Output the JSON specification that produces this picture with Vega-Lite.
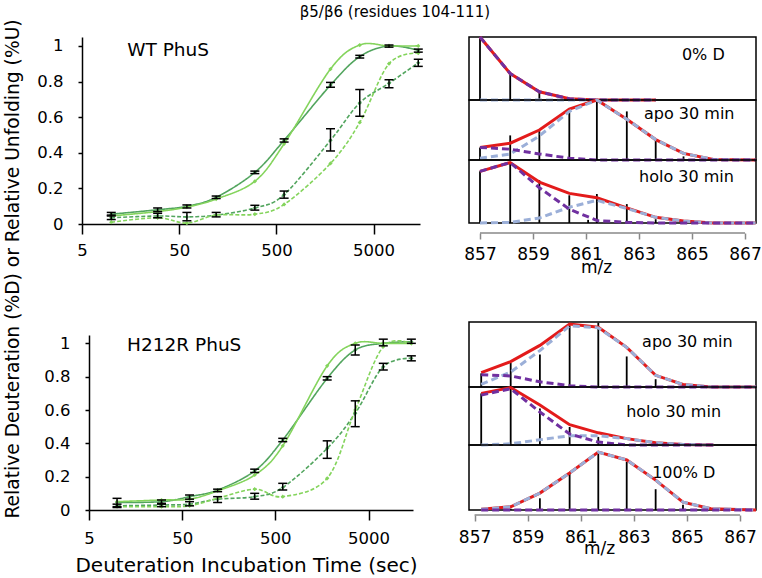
{
  "$schema": "https://vega.github.io/schema/vega-lite/v6.json",
  "padding": {"left": 2, "top": 4, "right": 0, "bottom": 0},
  "background": "white",
  "title": {"text": "β5/β6 (residues 104-111)", "fontSize": 15, "fontWeight": "normal", "anchor": "middle", "offset": -1, "dx": 12, "color": "black"},
  "config": {
    "font": "DejaVu Sans",
    "view": {"stroke": null},
    "axis": {"grid": false, "domainColor": "black", "tickColor": "black", "labelColor": "black", "titleColor": "black", "domainWidth": 1.5, "tickWidth": 1.5, "labelFlush": false, "labelOverlap": false, "titleFontWeight": "normal"}
  },
  "datasets": {
    "kin": [
      {"panel": "WT", "state": "apo", "measure": "%D", "t": 10, "v": 0.055, "lo": 0.045, "hi": 0.065},
      {"panel": "WT", "state": "apo", "measure": "%D", "t": 30, "v": 0.08, "lo": 0.07, "hi": 0.09},
      {"panel": "WT", "state": "apo", "measure": "%D", "t": 60, "v": 0.1, "lo": 0.09, "hi": 0.107},
      {"panel": "WT", "state": "apo", "measure": "%D", "t": 120, "v": 0.15, "lo": 0.143, "hi": 0.157},
      {"panel": "WT", "state": "apo", "measure": "%D", "t": 300, "v": 0.29, "lo": 0.283, "hi": 0.297},
      {"panel": "WT", "state": "apo", "measure": "%D", "t": 600, "v": 0.47, "lo": 0.46, "hi": 0.478},
      {"panel": "WT", "state": "apo", "measure": "%D", "t": 1800, "v": 0.78, "lo": 0.768, "hi": 0.795},
      {"panel": "WT", "state": "apo", "measure": "%D", "t": 3600, "v": 0.94, "lo": 0.932, "hi": 0.947},
      {"panel": "WT", "state": "apo", "measure": "%D", "t": 7200, "v": 1.0, "lo": 0.993, "hi": 1.005},
      {"panel": "WT", "state": "apo", "measure": "%D", "t": 14400, "v": 0.975, "lo": 0.965, "hi": 0.982},
      {"panel": "WT", "state": "apo", "measure": "%U", "t": 10, "v": 0.045},
      {"panel": "WT", "state": "apo", "measure": "%U", "t": 30, "v": 0.07},
      {"panel": "WT", "state": "apo", "measure": "%U", "t": 60, "v": 0.095},
      {"panel": "WT", "state": "apo", "measure": "%U", "t": 120, "v": 0.14},
      {"panel": "WT", "state": "apo", "measure": "%U", "t": 300, "v": 0.24},
      {"panel": "WT", "state": "apo", "measure": "%U", "t": 600, "v": 0.45},
      {"panel": "WT", "state": "apo", "measure": "%U", "t": 1800, "v": 0.87},
      {"panel": "WT", "state": "apo", "measure": "%U", "t": 3600, "v": 1.005},
      {"panel": "WT", "state": "apo", "measure": "%U", "t": 7200, "v": 1.0},
      {"panel": "WT", "state": "apo", "measure": "%U", "t": 14400, "v": 1.0},
      {"panel": "WT", "state": "holo", "measure": "%D", "t": 10, "v": 0.035, "lo": 0.025, "hi": 0.05},
      {"panel": "WT", "state": "holo", "measure": "%D", "t": 30, "v": 0.045, "lo": 0.035, "hi": 0.06},
      {"panel": "WT", "state": "holo", "measure": "%D", "t": 60, "v": 0.04, "lo": 0.018, "hi": 0.065},
      {"panel": "WT", "state": "holo", "measure": "%D", "t": 120, "v": 0.05, "lo": 0.04, "hi": 0.065},
      {"panel": "WT", "state": "holo", "measure": "%D", "t": 300, "v": 0.09, "lo": 0.078, "hi": 0.105},
      {"panel": "WT", "state": "holo", "measure": "%D", "t": 600, "v": 0.165, "lo": 0.145, "hi": 0.185},
      {"panel": "WT", "state": "holo", "measure": "%D", "t": 1800, "v": 0.47, "lo": 0.41, "hi": 0.535},
      {"panel": "WT", "state": "holo", "measure": "%D", "t": 3600, "v": 0.68, "lo": 0.605, "hi": 0.755},
      {"panel": "WT", "state": "holo", "measure": "%D", "t": 7200, "v": 0.79, "lo": 0.765, "hi": 0.81},
      {"panel": "WT", "state": "holo", "measure": "%D", "t": 14400, "v": 0.905, "lo": 0.885, "hi": 0.925},
      {"panel": "WT", "state": "holo", "measure": "%U", "t": 10, "v": 0.01},
      {"panel": "WT", "state": "holo", "measure": "%U", "t": 30, "v": 0.035},
      {"panel": "WT", "state": "holo", "measure": "%U", "t": 60, "v": 0.005},
      {"panel": "WT", "state": "holo", "measure": "%U", "t": 120, "v": 0.05},
      {"panel": "WT", "state": "holo", "measure": "%U", "t": 300, "v": 0.055},
      {"panel": "WT", "state": "holo", "measure": "%U", "t": 600, "v": 0.11},
      {"panel": "WT", "state": "holo", "measure": "%U", "t": 1800, "v": 0.34},
      {"panel": "WT", "state": "holo", "measure": "%U", "t": 3600, "v": 0.57},
      {"panel": "WT", "state": "holo", "measure": "%U", "t": 7200, "v": 0.9},
      {"panel": "WT", "state": "holo", "measure": "%U", "t": 14400, "v": 0.96},
      {"panel": "H212R", "state": "apo", "measure": "%D", "t": 10, "v": 0.045, "lo": 0.02, "hi": 0.07},
      {"panel": "H212R", "state": "apo", "measure": "%D", "t": 30, "v": 0.05, "lo": 0.035, "hi": 0.06},
      {"panel": "H212R", "state": "apo", "measure": "%D", "t": 60, "v": 0.08, "lo": 0.065, "hi": 0.09},
      {"panel": "H212R", "state": "apo", "measure": "%D", "t": 120, "v": 0.12, "lo": 0.11, "hi": 0.125},
      {"panel": "H212R", "state": "apo", "measure": "%D", "t": 300, "v": 0.235, "lo": 0.225, "hi": 0.245},
      {"panel": "H212R", "state": "apo", "measure": "%D", "t": 600, "v": 0.42, "lo": 0.41, "hi": 0.43},
      {"panel": "H212R", "state": "apo", "measure": "%D", "t": 1800, "v": 0.79, "lo": 0.78, "hi": 0.8},
      {"panel": "H212R", "state": "apo", "measure": "%D", "t": 3600, "v": 0.96, "lo": 0.93, "hi": 0.99},
      {"panel": "H212R", "state": "apo", "measure": "%D", "t": 7200, "v": 1.0, "lo": 0.985, "hi": 1.025},
      {"panel": "H212R", "state": "apo", "measure": "%D", "t": 14400, "v": 1.01, "lo": 1.0, "hi": 1.025},
      {"panel": "H212R", "state": "apo", "measure": "%U", "t": 10, "v": 0.05},
      {"panel": "H212R", "state": "apo", "measure": "%U", "t": 30, "v": 0.06},
      {"panel": "H212R", "state": "apo", "measure": "%U", "t": 60, "v": 0.065},
      {"panel": "H212R", "state": "apo", "measure": "%U", "t": 120, "v": 0.115},
      {"panel": "H212R", "state": "apo", "measure": "%U", "t": 300, "v": 0.21},
      {"panel": "H212R", "state": "apo", "measure": "%U", "t": 600, "v": 0.385},
      {"panel": "H212R", "state": "apo", "measure": "%U", "t": 1800, "v": 0.865},
      {"panel": "H212R", "state": "apo", "measure": "%U", "t": 3600, "v": 1.0},
      {"panel": "H212R", "state": "apo", "measure": "%U", "t": 7200, "v": 1.0},
      {"panel": "H212R", "state": "apo", "measure": "%U", "t": 14400, "v": 1.0},
      {"panel": "H212R", "state": "holo", "measure": "%D", "t": 10, "v": 0.025, "lo": 0.015, "hi": 0.035},
      {"panel": "H212R", "state": "holo", "measure": "%D", "t": 30, "v": 0.03, "lo": 0.02, "hi": 0.04},
      {"panel": "H212R", "state": "holo", "measure": "%D", "t": 60, "v": 0.035, "lo": 0.025, "hi": 0.05},
      {"panel": "H212R", "state": "holo", "measure": "%D", "t": 120, "v": 0.065, "lo": 0.045, "hi": 0.08},
      {"panel": "H212R", "state": "holo", "measure": "%D", "t": 300, "v": 0.08, "lo": 0.065, "hi": 0.1},
      {"panel": "H212R", "state": "holo", "measure": "%D", "t": 600, "v": 0.135, "lo": 0.12, "hi": 0.16},
      {"panel": "H212R", "state": "holo", "measure": "%D", "t": 1800, "v": 0.37, "lo": 0.31, "hi": 0.415},
      {"panel": "H212R", "state": "holo", "measure": "%D", "t": 3600, "v": 0.58, "lo": 0.5, "hi": 0.655},
      {"panel": "H212R", "state": "holo", "measure": "%D", "t": 7200, "v": 0.86, "lo": 0.84, "hi": 0.88},
      {"panel": "H212R", "state": "holo", "measure": "%D", "t": 14400, "v": 0.91, "lo": 0.895, "hi": 0.925},
      {"panel": "H212R", "state": "holo", "measure": "%U", "t": 10, "v": 0.02},
      {"panel": "H212R", "state": "holo", "measure": "%U", "t": 30, "v": 0.02},
      {"panel": "H212R", "state": "holo", "measure": "%U", "t": 60, "v": 0.025},
      {"panel": "H212R", "state": "holo", "measure": "%U", "t": 120, "v": 0.07},
      {"panel": "H212R", "state": "holo", "measure": "%U", "t": 300, "v": 0.125},
      {"panel": "H212R", "state": "holo", "measure": "%U", "t": 600, "v": 0.08},
      {"panel": "H212R", "state": "holo", "measure": "%U", "t": 1800, "v": 0.19},
      {"panel": "H212R", "state": "holo", "measure": "%U", "t": 3600, "v": 0.6},
      {"panel": "H212R", "state": "holo", "measure": "%U", "t": 7200, "v": 0.98},
      {"panel": "H212R", "state": "holo", "measure": "%U", "t": 14400, "v": 1.0}
    ],
    "peaks": [
      {"box": "T1", "mz": 857.0, "h": 0.98}, {"box": "T1", "mz": 858.14, "h": 0.4}, {"box": "T1", "mz": 859.24, "h": 0.13}, {"box": "T1", "mz": 860.37, "h": 0.02},
      {"box": "T2", "mz": 857.0, "h": 0.21}, {"box": "T2", "mz": 858.14, "h": 0.41}, {"box": "T2", "mz": 859.24, "h": 0.48}, {"box": "T2", "mz": 860.37, "h": 0.82}, {"box": "T2", "mz": 861.41, "h": 1.0}, {"box": "T2", "mz": 862.54, "h": 0.81}, {"box": "T2", "mz": 863.63, "h": 0.34}, {"box": "T2", "mz": 864.68, "h": 0.06},
      {"box": "T3", "mz": 857.0, "h": 0.82}, {"box": "T3", "mz": 858.14, "h": 0.96}, {"box": "T3", "mz": 859.24, "h": 0.68}, {"box": "T3", "mz": 860.37, "h": 0.44}, {"box": "T3", "mz": 861.08, "h": 0.05}, {"box": "T3", "mz": 861.41, "h": 0.46}, {"box": "T3", "mz": 862.54, "h": 0.3}, {"box": "T3", "mz": 863.63, "h": 0.06},
      {"box": "B1", "mz": 857.25, "h": 0.21}, {"box": "B1", "mz": 858.36, "h": 0.37}, {"box": "B1", "mz": 859.46, "h": 0.5}, {"box": "B1", "mz": 860.58, "h": 0.95}, {"box": "B1", "mz": 861.66, "h": 0.99}, {"box": "B1", "mz": 862.73, "h": 0.47}, {"box": "B1", "mz": 863.82, "h": 0.12}, {"box": "B1", "mz": 864.85, "h": 0.03},
      {"box": "B2", "mz": 857.25, "h": 0.89}, {"box": "B2", "mz": 858.36, "h": 1.0}, {"box": "B2", "mz": 859.46, "h": 0.63}, {"box": "B2", "mz": 860.58, "h": 0.31}, {"box": "B2", "mz": 861.66, "h": 0.14},
      {"box": "B3", "mz": 858.36, "h": 0.02}, {"box": "B3", "mz": 859.46, "h": 0.18}, {"box": "B3", "mz": 860.58, "h": 0.56}, {"box": "B3", "mz": 861.66, "h": 0.89}, {"box": "B3", "mz": 862.73, "h": 0.74}, {"box": "B3", "mz": 863.82, "h": 0.32}, {"box": "B3", "mz": 864.85, "h": 0.08}
    ],
    "fits": [
      {"box": "T1", "curve": "sum", "mz": 857.0, "v": 1.0}, {"box": "T1", "curve": "sum", "mz": 858.14, "v": 0.42}, {"box": "T1", "curve": "sum", "mz": 859.24, "v": 0.13}, {"box": "T1", "curve": "sum", "mz": 860.37, "v": 0.02}, {"box": "T1", "curve": "sum", "mz": 861.41, "v": 0}, {"box": "T1", "curve": "sum", "mz": 862.54, "v": 0}, {"box": "T1", "curve": "sum", "mz": 863.63, "v": 0},
      {"box": "T1", "curve": "undeut", "mz": 857.0, "v": 1.0}, {"box": "T1", "curve": "undeut", "mz": 858.14, "v": 0.42}, {"box": "T1", "curve": "undeut", "mz": 859.24, "v": 0.13}, {"box": "T1", "curve": "undeut", "mz": 860.37, "v": 0.02}, {"box": "T1", "curve": "undeut", "mz": 861.41, "v": 0}, {"box": "T1", "curve": "undeut", "mz": 862.54, "v": 0}, {"box": "T1", "curve": "undeut", "mz": 863.63, "v": 0},
      {"box": "T1", "curve": "deut", "mz": 857.0, "v": 0}, {"box": "T1", "curve": "deut", "mz": 863.63, "v": 0},
      {"box": "T2", "curve": "sum", "mz": 857.0, "v": 0.21}, {"box": "T2", "curve": "sum", "mz": 858.14, "v": 0.28}, {"box": "T2", "curve": "sum", "mz": 859.24, "v": 0.5}, {"box": "T2", "curve": "sum", "mz": 860.37, "v": 0.85}, {"box": "T2", "curve": "sum", "mz": 861.41, "v": 1.0}, {"box": "T2", "curve": "sum", "mz": 862.54, "v": 0.68}, {"box": "T2", "curve": "sum", "mz": 863.63, "v": 0.34}, {"box": "T2", "curve": "sum", "mz": 864.68, "v": 0.11}, {"box": "T2", "curve": "sum", "mz": 865.8, "v": 0.01}, {"box": "T2", "curve": "sum", "mz": 867.4, "v": 0},
      {"box": "T2", "curve": "deut", "mz": 857.0, "v": 0.03}, {"box": "T2", "curve": "deut", "mz": 858.14, "v": 0.1}, {"box": "T2", "curve": "deut", "mz": 859.24, "v": 0.4}, {"box": "T2", "curve": "deut", "mz": 860.37, "v": 0.81}, {"box": "T2", "curve": "deut", "mz": 861.41, "v": 1.0}, {"box": "T2", "curve": "deut", "mz": 862.54, "v": 0.68}, {"box": "T2", "curve": "deut", "mz": 863.63, "v": 0.34}, {"box": "T2", "curve": "deut", "mz": 864.68, "v": 0.11}, {"box": "T2", "curve": "deut", "mz": 865.8, "v": 0.01}, {"box": "T2", "curve": "deut", "mz": 867.4, "v": 0},
      {"box": "T2", "curve": "undeut", "mz": 857.0, "v": 0.21}, {"box": "T2", "curve": "undeut", "mz": 858.14, "v": 0.18}, {"box": "T2", "curve": "undeut", "mz": 859.24, "v": 0.1}, {"box": "T2", "curve": "undeut", "mz": 860.37, "v": 0.03}, {"box": "T2", "curve": "undeut", "mz": 861.41, "v": 0}, {"box": "T2", "curve": "undeut", "mz": 867.4, "v": 0},
      {"box": "T3", "curve": "sum", "mz": 857.0, "v": 0.82}, {"box": "T3", "curve": "sum", "mz": 858.14, "v": 0.96}, {"box": "T3", "curve": "sum", "mz": 859.24, "v": 0.65}, {"box": "T3", "curve": "sum", "mz": 860.37, "v": 0.47}, {"box": "T3", "curve": "sum", "mz": 861.41, "v": 0.4}, {"box": "T3", "curve": "sum", "mz": 862.54, "v": 0.24}, {"box": "T3", "curve": "sum", "mz": 863.63, "v": 0.09}, {"box": "T3", "curve": "sum", "mz": 864.68, "v": 0.03}, {"box": "T3", "curve": "sum", "mz": 865.8, "v": 0}, {"box": "T3", "curve": "sum", "mz": 867.4, "v": 0},
      {"box": "T3", "curve": "undeut", "mz": 857.0, "v": 0.82}, {"box": "T3", "curve": "undeut", "mz": 858.14, "v": 0.96}, {"box": "T3", "curve": "undeut", "mz": 859.24, "v": 0.56}, {"box": "T3", "curve": "undeut", "mz": 860.37, "v": 0.22}, {"box": "T3", "curve": "undeut", "mz": 861.41, "v": 0.04}, {"box": "T3", "curve": "undeut", "mz": 862.54, "v": 0.01}, {"box": "T3", "curve": "undeut", "mz": 863.63, "v": 0}, {"box": "T3", "curve": "undeut", "mz": 867.4, "v": 0},
      {"box": "T3", "curve": "deut", "mz": 857.0, "v": 0}, {"box": "T3", "curve": "deut", "mz": 858.14, "v": 0.01}, {"box": "T3", "curve": "deut", "mz": 859.24, "v": 0.08}, {"box": "T3", "curve": "deut", "mz": 860.37, "v": 0.25}, {"box": "T3", "curve": "deut", "mz": 861.41, "v": 0.36}, {"box": "T3", "curve": "deut", "mz": 862.54, "v": 0.23}, {"box": "T3", "curve": "deut", "mz": 863.63, "v": 0.09}, {"box": "T3", "curve": "deut", "mz": 864.68, "v": 0.03}, {"box": "T3", "curve": "deut", "mz": 865.8, "v": 0}, {"box": "T3", "curve": "deut", "mz": 867.4, "v": 0},
      {"box": "B1", "curve": "sum", "mz": 857.25, "v": 0.22}, {"box": "B1", "curve": "sum", "mz": 858.36, "v": 0.39}, {"box": "B1", "curve": "sum", "mz": 859.46, "v": 0.64}, {"box": "B1", "curve": "sum", "mz": 860.58, "v": 0.97}, {"box": "B1", "curve": "sum", "mz": 861.66, "v": 0.92}, {"box": "B1", "curve": "sum", "mz": 862.73, "v": 0.61}, {"box": "B1", "curve": "sum", "mz": 863.82, "v": 0.18}, {"box": "B1", "curve": "sum", "mz": 864.85, "v": 0.04}, {"box": "B1", "curve": "sum", "mz": 865.9, "v": 0}, {"box": "B1", "curve": "sum", "mz": 867.6, "v": 0},
      {"box": "B1", "curve": "deut", "mz": 857.25, "v": 0.04}, {"box": "B1", "curve": "deut", "mz": 858.36, "v": 0.23}, {"box": "B1", "curve": "deut", "mz": 859.46, "v": 0.56}, {"box": "B1", "curve": "deut", "mz": 860.58, "v": 0.94}, {"box": "B1", "curve": "deut", "mz": 861.66, "v": 0.91}, {"box": "B1", "curve": "deut", "mz": 862.73, "v": 0.61}, {"box": "B1", "curve": "deut", "mz": 863.82, "v": 0.18}, {"box": "B1", "curve": "deut", "mz": 864.85, "v": 0.04}, {"box": "B1", "curve": "deut", "mz": 865.9, "v": 0}, {"box": "B1", "curve": "deut", "mz": 867.6, "v": 0},
      {"box": "B1", "curve": "undeut", "mz": 857.25, "v": 0.19}, {"box": "B1", "curve": "undeut", "mz": 858.36, "v": 0.17}, {"box": "B1", "curve": "undeut", "mz": 859.46, "v": 0.08}, {"box": "B1", "curve": "undeut", "mz": 860.58, "v": 0.02}, {"box": "B1", "curve": "undeut", "mz": 861.66, "v": 0}, {"box": "B1", "curve": "undeut", "mz": 867.6, "v": 0},
      {"box": "B2", "curve": "sum", "mz": 857.25, "v": 0.89}, {"box": "B2", "curve": "sum", "mz": 858.36, "v": 0.99}, {"box": "B2", "curve": "sum", "mz": 859.46, "v": 0.69}, {"box": "B2", "curve": "sum", "mz": 860.58, "v": 0.35}, {"box": "B2", "curve": "sum", "mz": 861.66, "v": 0.21}, {"box": "B2", "curve": "sum", "mz": 862.73, "v": 0.11}, {"box": "B2", "curve": "sum", "mz": 863.82, "v": 0.04}, {"box": "B2", "curve": "sum", "mz": 864.85, "v": 0.01}, {"box": "B2", "curve": "sum", "mz": 866.0, "v": 0},
      {"box": "B2", "curve": "undeut", "mz": 857.25, "v": 0.86}, {"box": "B2", "curve": "undeut", "mz": 858.36, "v": 0.97}, {"box": "B2", "curve": "undeut", "mz": 859.46, "v": 0.57}, {"box": "B2", "curve": "undeut", "mz": 860.58, "v": 0.19}, {"box": "B2", "curve": "undeut", "mz": 861.66, "v": 0.05}, {"box": "B2", "curve": "undeut", "mz": 862.73, "v": 0}, {"box": "B2", "curve": "undeut", "mz": 866.0, "v": 0},
      {"box": "B2", "curve": "deut", "mz": 857.25, "v": 0}, {"box": "B2", "curve": "deut", "mz": 858.36, "v": 0.02}, {"box": "B2", "curve": "deut", "mz": 859.46, "v": 0.09}, {"box": "B2", "curve": "deut", "mz": 860.58, "v": 0.16}, {"box": "B2", "curve": "deut", "mz": 861.66, "v": 0.16}, {"box": "B2", "curve": "deut", "mz": 862.73, "v": 0.11}, {"box": "B2", "curve": "deut", "mz": 863.82, "v": 0.04}, {"box": "B2", "curve": "deut", "mz": 864.85, "v": 0.01}, {"box": "B2", "curve": "deut", "mz": 866.0, "v": 0},
      {"box": "B3", "curve": "sum", "mz": 857.25, "v": 0.01}, {"box": "B3", "curve": "sum", "mz": 858.36, "v": 0.05}, {"box": "B3", "curve": "sum", "mz": 859.46, "v": 0.26}, {"box": "B3", "curve": "sum", "mz": 860.58, "v": 0.57}, {"box": "B3", "curve": "sum", "mz": 861.66, "v": 0.89}, {"box": "B3", "curve": "sum", "mz": 862.73, "v": 0.77}, {"box": "B3", "curve": "sum", "mz": 863.82, "v": 0.46}, {"box": "B3", "curve": "sum", "mz": 864.85, "v": 0.12}, {"box": "B3", "curve": "sum", "mz": 865.9, "v": 0.02}, {"box": "B3", "curve": "sum", "mz": 867.6, "v": 0},
      {"box": "B3", "curve": "deut", "mz": 857.25, "v": 0.01}, {"box": "B3", "curve": "deut", "mz": 858.36, "v": 0.05}, {"box": "B3", "curve": "deut", "mz": 859.46, "v": 0.26}, {"box": "B3", "curve": "deut", "mz": 860.58, "v": 0.57}, {"box": "B3", "curve": "deut", "mz": 861.66, "v": 0.89}, {"box": "B3", "curve": "deut", "mz": 862.73, "v": 0.77}, {"box": "B3", "curve": "deut", "mz": 863.82, "v": 0.46}, {"box": "B3", "curve": "deut", "mz": 864.85, "v": 0.12}, {"box": "B3", "curve": "deut", "mz": 865.9, "v": 0.02}, {"box": "B3", "curve": "deut", "mz": 867.6, "v": 0},
      {"box": "B3", "curve": "undeut", "mz": 857.25, "v": 0}, {"box": "B3", "curve": "undeut", "mz": 867.6, "v": 0}
    ]
  },
  "spacing": 35,
  "hconcat": [
    {
      "vconcat": [
        {
          "width": 338, "height": 187,
          "layer": [
            {"data": {"name": "kin"}, "transform": [{"filter": "datum.panel === 'WT'"}],
             "mark": {"type": "line", "interpolate": "cardinal", "strokeWidth": 1.6},
             "encoding": {
               "x": {"field": "t", "type": "quantitative", "scale": {"type": "log", "domain": [5, 15000], "nice": false},
                     "axis": {"values": [5, 50, 500, 5000], "tickCount": 10, "format": "d", "tickSize": 10, "labelPadding": 8, "labelFontSize": 16.5, "labelOverlap": false, "title": null}},
               "y": {"field": "v", "type": "quantitative", "scale": {"domain": [0, 1.05], "nice": false, "zero": false},
                     "axis": {"values": [0, 0.2, 0.4, 0.6, 0.8, 1], "tickCount": 10, "format": ".1~f", "tickSize": 4, "labelPadding": 15, "labelFontSize": 16.5, "labelOverlap": false,
                              "title": "Relative Deuteration (%D) or Relative Unfolding (%U)", "titleFontSize": 18.7, "titleX": -70, "titleY": 231.5, "titleAngle": -90, "titleAlign": "center", "titleBaseline": "middle"}},
               "color": {"field": "measure", "type": "nominal", "scale": {"domain": ["%D", "%U"], "range": ["#52a55e", "#84d45c"]}, "legend": null},
               "strokeDash": {"field": "state", "type": "nominal", "scale": {"domain": ["apo", "holo"], "range": [[1, 0], [4, 2]]}, "legend": null}
             }},
            {"data": {"name": "kin"}, "transform": [{"filter": "datum.panel === 'WT'"}],
             "mark": {"type": "point", "shape": "diamond", "filled": true, "size": 18, "opacity": 1},
             "encoding": {"x": {"field": "t", "type": "quantitative"}, "y": {"field": "v", "type": "quantitative"},
                          "color": {"field": "measure", "type": "nominal", "legend": null}}},
            {"data": {"name": "kin"}, "transform": [{"filter": "datum.panel === 'WT' && datum.measure === '%D'"}],
             "mark": {"type": "rule", "color": "black", "strokeWidth": 1.5},
             "encoding": {"x": {"field": "t", "type": "quantitative"}, "y": {"field": "lo", "type": "quantitative"}, "y2": {"field": "hi"}}},
            {"data": {"name": "kin"}, "transform": [{"filter": "datum.panel === 'WT' && datum.measure === '%D'"}],
             "mark": {"type": "tick", "orient": "horizontal", "color": "black", "size": 9, "thickness": 1.5, "opacity": 1},
             "encoding": {"x": {"field": "t", "type": "quantitative"}, "y": {"field": "lo", "type": "quantitative"}}},
            {"data": {"name": "kin"}, "transform": [{"filter": "datum.panel === 'WT' && datum.measure === '%D'"}],
             "mark": {"type": "tick", "orient": "horizontal", "color": "black", "size": 9, "thickness": 1.5, "opacity": 1},
             "encoding": {"x": {"field": "t", "type": "quantitative"}, "y": {"field": "hi", "type": "quantitative"}}},
            {"data": {"values": [{}]},
             "mark": {"type": "text", "fontSize": 18.5, "align": "left", "baseline": "middle", "color": "black"},
             "encoding": {"x": {"datum": 14.6}, "y": {"datum": 0.975}, "text": {"value": "WT PhuS"}}}
          ]
        },
        {
          "width": 324, "height": 175,
          "layer": [
            {"data": {"name": "kin"}, "transform": [{"filter": "datum.panel === 'H212R'"}],
             "mark": {"type": "line", "interpolate": "cardinal", "strokeWidth": 1.6},
             "encoding": {
               "x": {"field": "t", "type": "quantitative", "scale": {"type": "log", "domain": [5, 15000], "nice": false},
                     "axis": {"values": [5, 50, 500, 5000], "tickCount": 10, "format": "d", "tickSize": 10, "labelPadding": 10, "labelFontSize": 16.5, "labelOverlap": false,
                              "title": "Deuteration Incubation Time (sec)", "titleFontSize": 20, "titleX": 157, "titleY": 55, "titleAlign": "center", "titleBaseline": "middle"}},
               "y": {"field": "v", "type": "quantitative", "scale": {"domain": [0, 1.05], "nice": false, "zero": false},
                     "axis": {"values": [0, 0.2, 0.4, 0.6, 0.8, 1], "tickCount": 10, "format": ".1~f", "tickSize": 4, "labelPadding": 15, "labelFontSize": 16.5, "labelOverlap": false, "title": null}},
               "color": {"field": "measure", "type": "nominal", "scale": {"domain": ["%D", "%U"], "range": ["#52a55e", "#84d45c"]}, "legend": null},
               "strokeDash": {"field": "state", "type": "nominal", "scale": {"domain": ["apo", "holo"], "range": [[1, 0], [4, 2]]}, "legend": null}
             }},
            {"data": {"name": "kin"}, "transform": [{"filter": "datum.panel === 'H212R'"}],
             "mark": {"type": "point", "shape": "diamond", "filled": true, "size": 18, "opacity": 1},
             "encoding": {"x": {"field": "t", "type": "quantitative"}, "y": {"field": "v", "type": "quantitative"},
                          "color": {"field": "measure", "type": "nominal", "legend": null}}},
            {"data": {"name": "kin"}, "transform": [{"filter": "datum.panel === 'H212R' && datum.measure === '%D'"}],
             "mark": {"type": "rule", "color": "black", "strokeWidth": 1.5},
             "encoding": {"x": {"field": "t", "type": "quantitative"}, "y": {"field": "lo", "type": "quantitative"}, "y2": {"field": "hi"}}},
            {"data": {"name": "kin"}, "transform": [{"filter": "datum.panel === 'H212R' && datum.measure === '%D'"}],
             "mark": {"type": "tick", "orient": "horizontal", "color": "black", "size": 9, "thickness": 1.5, "opacity": 1},
             "encoding": {"x": {"field": "t", "type": "quantitative"}, "y": {"field": "lo", "type": "quantitative"}}},
            {"data": {"name": "kin"}, "transform": [{"filter": "datum.panel === 'H212R' && datum.measure === '%D'"}],
             "mark": {"type": "tick", "orient": "horizontal", "color": "black", "size": 9, "thickness": 1.5, "opacity": 1},
             "encoding": {"x": {"field": "t", "type": "quantitative"}, "y": {"field": "hi", "type": "quantitative"}}},
            {"data": {"values": [{}]},
             "mark": {"type": "text", "fontSize": 18.5, "align": "left", "baseline": "middle", "color": "black"},
             "encoding": {"x": {"datum": 12.8}, "y": {"datum": 0.99}, "text": {"value": "H212R PhuS"}}}
          ]
        }
      ],
      "spacing": 111,
      "bounds": "flush",
      "center": true
    },
    {
      "vconcat": [
        {
          "vconcat": [
            {"width": 287, "height": 63, "view": {"stroke": "black", "strokeWidth": 1.5},
             "layer": [
               {"data": {"name": "peaks"}, "transform": [{"filter": "datum.box === 'T1'"}], "mark": {"type": "rule", "color": "black", "strokeWidth": 1.8},
                "encoding": {"x": {"field": "mz", "type": "quantitative", "scale": {"domain": [856.585, 867.415], "nice": false, "zero": false}, "axis": null},
                             "y": {"field": "h", "type": "quantitative", "scale": {"domain": [0, 1], "nice": false}, "axis": null}, "y2": {"datum": 0}}},
               {"data": {"name": "fits"}, "transform": [{"filter": "datum.box === 'T1' && datum.curve === 'sum'"}], "mark": {"type": "line", "color": "#e31b1b", "strokeWidth": 3},
                "encoding": {"x": {"field": "mz", "type": "quantitative"}, "y": {"field": "v", "type": "quantitative"}}},
               {"data": {"name": "fits"}, "transform": [{"filter": "datum.box === 'T1' && datum.curve === 'deut'"}], "mark": {"type": "line", "color": "#9bafd8", "strokeWidth": 3, "strokeDash": [7, 4]},
                "encoding": {"x": {"field": "mz", "type": "quantitative"}, "y": {"field": "v", "type": "quantitative"}}},
               {"data": {"name": "fits"}, "transform": [{"filter": "datum.box === 'T1' && datum.curve === 'undeut'"}], "mark": {"type": "line", "color": "#7030a0", "strokeWidth": 3, "strokeDash": [7, 4]},
                "encoding": {"x": {"field": "mz", "type": "quantitative"}, "y": {"field": "v", "type": "quantitative"}}},
               {"data": {"values": [{}]}, "mark": {"type": "text", "fontSize": 16, "align": "left", "baseline": "middle", "color": "black"},
                "encoding": {"x": {"datum": 864.62}, "y": {"datum": 0.72}, "text": {"value": "0% D"}}}
             ]},
            {"width": 287, "height": 60, "view": {"stroke": "black", "strokeWidth": 1.5},
             "layer": [
               {"data": {"name": "peaks"}, "transform": [{"filter": "datum.box === 'T2'"}], "mark": {"type": "rule", "color": "black", "strokeWidth": 1.8},
                "encoding": {"x": {"field": "mz", "type": "quantitative", "scale": {"domain": [856.585, 867.415], "nice": false, "zero": false}, "axis": null},
                             "y": {"field": "h", "type": "quantitative", "scale": {"domain": [0, 1], "nice": false}, "axis": null}, "y2": {"datum": 0}}},
               {"data": {"name": "fits"}, "transform": [{"filter": "datum.box === 'T2' && datum.curve === 'sum'"}], "mark": {"type": "line", "color": "#e31b1b", "strokeWidth": 3},
                "encoding": {"x": {"field": "mz", "type": "quantitative"}, "y": {"field": "v", "type": "quantitative"}}},
               {"data": {"name": "fits"}, "transform": [{"filter": "datum.box === 'T2' && datum.curve === 'deut'"}], "mark": {"type": "line", "color": "#9bafd8", "strokeWidth": 3, "strokeDash": [7, 4]},
                "encoding": {"x": {"field": "mz", "type": "quantitative"}, "y": {"field": "v", "type": "quantitative"}}},
               {"data": {"name": "fits"}, "transform": [{"filter": "datum.box === 'T2' && datum.curve === 'undeut'"}], "mark": {"type": "line", "color": "#7030a0", "strokeWidth": 3, "strokeDash": [7, 4]},
                "encoding": {"x": {"field": "mz", "type": "quantitative"}, "y": {"field": "v", "type": "quantitative"}}},
               {"data": {"values": [{}]}, "mark": {"type": "text", "fontSize": 16, "align": "left", "baseline": "middle", "color": "black"},
                "encoding": {"x": {"datum": 863.19}, "y": {"datum": 0.77}, "text": {"value": "apo 30 min"}}}
             ]},
            {"width": 287, "height": 63, "view": {"stroke": "black", "strokeWidth": 1.5},
             "layer": [
               {"data": {"name": "peaks"}, "transform": [{"filter": "datum.box === 'T3'"}], "mark": {"type": "rule", "color": "black", "strokeWidth": 1.8},
                "encoding": {"x": {"field": "mz", "type": "quantitative", "scale": {"domain": [856.585, 867.415], "nice": false, "zero": false}, "axis": null},
                             "y": {"field": "h", "type": "quantitative", "scale": {"domain": [0, 1], "nice": false}, "axis": null}, "y2": {"datum": 0}}},
               {"data": {"name": "fits"}, "transform": [{"filter": "datum.box === 'T3' && datum.curve === 'sum'"}], "mark": {"type": "line", "color": "#e31b1b", "strokeWidth": 3},
                "encoding": {"x": {"field": "mz", "type": "quantitative"}, "y": {"field": "v", "type": "quantitative"}}},
               {"data": {"name": "fits"}, "transform": [{"filter": "datum.box === 'T3' && datum.curve === 'deut'"}], "mark": {"type": "line", "color": "#9bafd8", "strokeWidth": 3, "strokeDash": [7, 4]},
                "encoding": {"x": {"field": "mz", "type": "quantitative"}, "y": {"field": "v", "type": "quantitative"}}},
               {"data": {"name": "fits"}, "transform": [{"filter": "datum.box === 'T3' && datum.curve === 'undeut'"}], "mark": {"type": "line", "color": "#7030a0", "strokeWidth": 3, "strokeDash": [7, 4]},
                "encoding": {"x": {"field": "mz", "type": "quantitative"}, "y": {"field": "v", "type": "quantitative"}}},
               {"data": {"values": [{}]}, "mark": {"type": "text", "fontSize": 16, "align": "left", "baseline": "middle", "color": "black"},
                "encoding": {"x": {"datum": 863.0}, "y": {"datum": 0.73}, "text": {"value": "holo 30 min"}}}
             ]},
            {"width": 287, "height": 10,
             "data": {"values": [{}]},
             "mark": {"type": "rule", "color": "#888888", "strokeWidth": 1.5},
             "encoding": {
               "x": {"datum": 857, "type": "quantitative", "scale": {"domain": [856.585, 867.415], "nice": false, "zero": false},
                     "axis": {"values": [857, 859, 861, 863, 865, 867], "tickCount": 10, "format": "d", "domain": false, "tickColor": "#888888", "tickSize": 6, "tickWidth": 1.5, "labelOverlap": false,
                              "labelFontSize": 17, "labelPadding": 7, "title": "m/z", "titleFontSize": 17, "titleX": 127, "titleY": 34, "titleAlign": "center", "titleBaseline": "middle"}},
               "x2": {"datum": 867},
               "y": {"datum": 0, "type": "quantitative", "scale": {"domain": [0, 1]}, "axis": null}
             }}
          ],
          "spacing": 0,
          "bounds": "flush"
        },
        {
          "vconcat": [
            {"width": 287, "height": 65, "view": {"stroke": "black", "strokeWidth": 1.5},
             "layer": [
               {"data": {"name": "peaks"}, "transform": [{"filter": "datum.box === 'B1'"}], "mark": {"type": "rule", "color": "black", "strokeWidth": 1.8},
                "encoding": {"x": {"field": "mz", "type": "quantitative", "scale": {"domain": [856.79, 867.6], "nice": false, "zero": false}, "axis": null},
                             "y": {"field": "h", "type": "quantitative", "scale": {"domain": [0, 1], "nice": false}, "axis": null}, "y2": {"datum": 0}}},
               {"data": {"name": "fits"}, "transform": [{"filter": "datum.box === 'B1' && datum.curve === 'sum'"}], "mark": {"type": "line", "color": "#e31b1b", "strokeWidth": 3},
                "encoding": {"x": {"field": "mz", "type": "quantitative"}, "y": {"field": "v", "type": "quantitative"}}},
               {"data": {"name": "fits"}, "transform": [{"filter": "datum.box === 'B1' && datum.curve === 'deut'"}], "mark": {"type": "line", "color": "#9bafd8", "strokeWidth": 3, "strokeDash": [7, 4]},
                "encoding": {"x": {"field": "mz", "type": "quantitative"}, "y": {"field": "v", "type": "quantitative"}}},
               {"data": {"name": "fits"}, "transform": [{"filter": "datum.box === 'B1' && datum.curve === 'undeut'"}], "mark": {"type": "line", "color": "#7030a0", "strokeWidth": 3, "strokeDash": [7, 4]},
                "encoding": {"x": {"field": "mz", "type": "quantitative"}, "y": {"field": "v", "type": "quantitative"}}},
               {"data": {"values": [{}]}, "mark": {"type": "text", "fontSize": 16, "align": "left", "baseline": "middle", "color": "black"},
                "encoding": {"x": {"datum": 863.31}, "y": {"datum": 0.69}, "text": {"value": "apo 30 min"}}}
             ]},
            {"width": 287, "height": 58, "view": {"stroke": "black", "strokeWidth": 1.5},
             "layer": [
               {"data": {"name": "peaks"}, "transform": [{"filter": "datum.box === 'B2'"}], "mark": {"type": "rule", "color": "black", "strokeWidth": 1.8},
                "encoding": {"x": {"field": "mz", "type": "quantitative", "scale": {"domain": [856.79, 867.6], "nice": false, "zero": false}, "axis": null},
                             "y": {"field": "h", "type": "quantitative", "scale": {"domain": [0, 1], "nice": false}, "axis": null}, "y2": {"datum": 0}}},
               {"data": {"name": "fits"}, "transform": [{"filter": "datum.box === 'B2' && datum.curve === 'sum'"}], "mark": {"type": "line", "color": "#e31b1b", "strokeWidth": 3},
                "encoding": {"x": {"field": "mz", "type": "quantitative"}, "y": {"field": "v", "type": "quantitative"}}},
               {"data": {"name": "fits"}, "transform": [{"filter": "datum.box === 'B2' && datum.curve === 'deut'"}], "mark": {"type": "line", "color": "#9bafd8", "strokeWidth": 3, "strokeDash": [7, 4]},
                "encoding": {"x": {"field": "mz", "type": "quantitative"}, "y": {"field": "v", "type": "quantitative"}}},
               {"data": {"name": "fits"}, "transform": [{"filter": "datum.box === 'B2' && datum.curve === 'undeut'"}], "mark": {"type": "line", "color": "#7030a0", "strokeWidth": 3, "strokeDash": [7, 4]},
                "encoding": {"x": {"field": "mz", "type": "quantitative"}, "y": {"field": "v", "type": "quantitative"}}},
               {"data": {"values": [{}]}, "mark": {"type": "text", "fontSize": 16, "align": "left", "baseline": "middle", "color": "black"},
                "encoding": {"x": {"datum": 862.71}, "y": {"datum": 0.57}, "text": {"value": "holo 30 min"}}}
             ]},
            {"width": 287, "height": 65, "view": {"stroke": "black", "strokeWidth": 1.5},
             "layer": [
               {"data": {"name": "peaks"}, "transform": [{"filter": "datum.box === 'B3'"}], "mark": {"type": "rule", "color": "black", "strokeWidth": 1.8},
                "encoding": {"x": {"field": "mz", "type": "quantitative", "scale": {"domain": [856.79, 867.6], "nice": false, "zero": false}, "axis": null},
                             "y": {"field": "h", "type": "quantitative", "scale": {"domain": [0, 1], "nice": false}, "axis": null}, "y2": {"datum": 0}}},
               {"data": {"name": "fits"}, "transform": [{"filter": "datum.box === 'B3' && datum.curve === 'sum'"}], "mark": {"type": "line", "color": "#e31b1b", "strokeWidth": 3},
                "encoding": {"x": {"field": "mz", "type": "quantitative"}, "y": {"field": "v", "type": "quantitative"}}},
               {"data": {"name": "fits"}, "transform": [{"filter": "datum.box === 'B3' && datum.curve === 'deut'"}], "mark": {"type": "line", "color": "#9bafd8", "strokeWidth": 3, "strokeDash": [7, 4]},
                "encoding": {"x": {"field": "mz", "type": "quantitative"}, "y": {"field": "v", "type": "quantitative"}}},
               {"data": {"name": "fits"}, "transform": [{"filter": "datum.box === 'B3' && datum.curve === 'undeut'"}], "mark": {"type": "line", "color": "#7030a0", "strokeWidth": 3, "strokeDash": [7, 4]},
                "encoding": {"x": {"field": "mz", "type": "quantitative"}, "y": {"field": "v", "type": "quantitative"}}},
               {"data": {"values": [{}]}, "mark": {"type": "text", "fontSize": 16, "align": "left", "baseline": "middle", "color": "black"},
                "encoding": {"x": {"datum": 863.69}, "y": {"datum": 0.57}, "text": {"value": "100% D"}}}
             ]},
            {"width": 287, "height": 5,
             "data": {"values": [{}]},
             "mark": {"type": "rule", "color": "#888888", "strokeWidth": 1.5},
             "encoding": {
               "x": {"datum": 857, "type": "quantitative", "scale": {"domain": [856.79, 867.6], "nice": false, "zero": false},
                     "axis": {"values": [857, 859, 861, 863, 865, 867], "tickCount": 10, "format": "d", "domain": false, "tickColor": "#888888", "tickSize": 6, "tickWidth": 1.5, "labelOverlap": false,
                              "labelFontSize": 17, "labelPadding": 8, "title": "m/z", "titleFontSize": 17, "titleX": 130, "titleY": 33, "titleAlign": "center", "titleBaseline": "middle"}},
               "x2": {"datum": 867},
               "y": {"datum": 0, "type": "quantitative", "scale": {"domain": [0, 1]}, "axis": null}
             }}
          ],
          "spacing": 0,
          "bounds": "flush"
        }
      ],
      "spacing": 42
    }
  ]
}
